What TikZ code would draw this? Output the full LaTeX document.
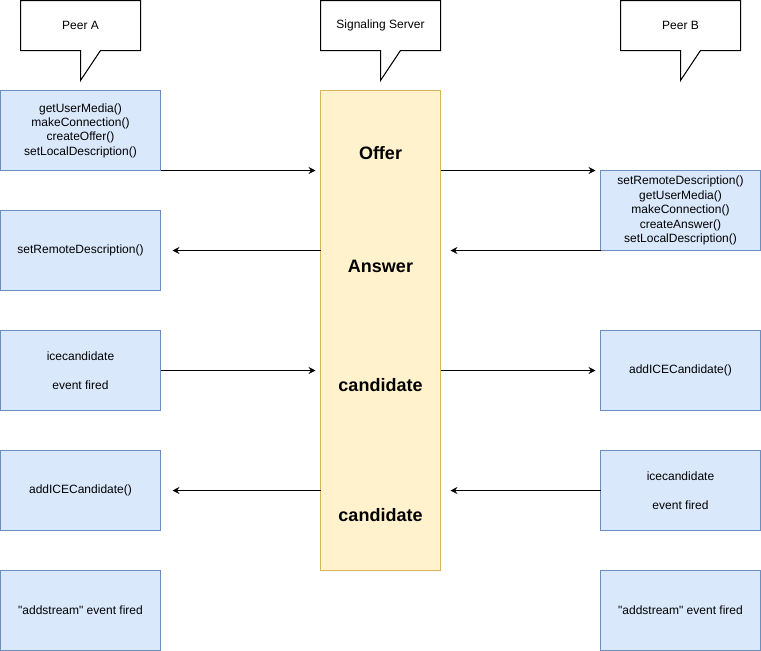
\documentclass[tikz,border=0pt]{standalone}
\usepackage{fontspec}
\setmainfont{Liberation Sans}[Ligatures=TeXOff]
\usetikzlibrary{arrows.meta,calc}
\definecolor{bfill}{HTML}{DAE8FC}
\definecolor{bdraw}{HTML}{6C8EBF}
\definecolor{yfill}{HTML}{FFF2CC}
\definecolor{ydraw}{HTML}{D6B656}
\tikzset{
  peerbox/.style={draw=bdraw,fill=bfill,line width=1pt,minimum width=160pt,minimum height=80pt,
    inner sep=0pt,outer sep=0pt,align=center,font=\fontsize{12}{14.4}\selectfont},
  serverbox/.style={draw=ydraw,fill=yfill,line width=1pt,minimum width=120pt,minimum height=480pt,
    inner sep=0pt,outer sep=0pt},
  msg/.style={font=\fontsize{18}{21.6}\selectfont\bfseries,inner sep=0pt},
  callouttext/.style={minimum width=120pt,minimum height=50pt,inner sep=0pt,outer sep=0pt,
    font=\fontsize{12}{14.4}\selectfont},
  callout/.style={draw=black,fill=white,line width=1pt,line join=miter},
  conn/.style={draw=black,line width=1pt,-{Stealth[length=7pt,width=7pt,inset=2.5pt]}},
}
\begin{document}
\begin{tikzpicture}[x=1pt,y=-1pt]
\useasboundingbox (-0.5,-0.5) rectangle (760.5,650.5);
% callouts
\node[callouttext] (pa) at (80,25) {};
\node[callouttext] (ss) at (380,25) {};
\node[callouttext] (pb) at (680,25) {};
\foreach \c in {pa,ss,pb}{
  \draw[callout] (\c.north west) -- (\c.north east) -- (\c.south east) -- ([xshift=20pt]\c.south)
    -- ([yshift=-30pt]\c.south) -- (\c.south) -- (\c.south west) -- cycle;
}
\node[callouttext] at (pa) {Peer A};
\node[callouttext] at (ss) {Signaling Server};
\node[callouttext] at (pb) {Peer B};
% server
\node[serverbox] (srv) at (380,330) {};
\node[msg] (m1) at (380,153) {Offer};
\node[msg] (m2) at (380,266) {Answer};
\node[msg] (m3) at (380,385) {candidate};
\node[msg] (m4) at (380,515) {candidate};
% peer A boxes
\node[peerbox] (a1) at (80,130) {getUserMedia()\\makeConnection()\\createOffer()\\setLocalDescription()};
\node[peerbox] (a2) at (80,250) {setRemoteDescription()};
\node[peerbox] (a3) at (80,370) {icecandidate\\[14.4pt]event fired};
\node[peerbox] (a4) at (80,490) {addICECandidate()};
\node[peerbox] (a5) at (80,610) {"addstream" event fired};
% peer B boxes
\node[peerbox] (b1) at (680,210) {setRemoteDescription()\\getUserMedia()\\makeConnection()\\createAnswer()\\setLocalDescription()};
\node[peerbox] (b3) at (680,370) {addICECandidate()};
\node[peerbox] (b4) at (680,490) {icecandidate\\[14.4pt]event fired};
\node[peerbox] (b5) at (680,610) {"addstream" event fired};
% connectors
\draw[conn,shorten >=5pt] (a1.south east) -- (a1.south east -| srv.west);
\draw[conn,shorten >=5pt] (srv.east |- b1.north west) -- (b1.north west);
\draw[conn,shorten >=10pt] (b1.south west) -- (b1.south west -| srv.east);
\draw[conn,shorten >=12pt] (srv.west |- a2.east) -- (a2.east);
\draw[conn,shorten >=5pt] (a3.east) -- (a3.east -| srv.west);
\draw[conn,shorten >=5pt] (srv.east |- b3.west) -- (b3.west);
\draw[conn,shorten >=10pt] (b4.west) -- (b4.west -| srv.east);
\draw[conn,shorten >=12pt] (srv.west |- a4.east) -- (a4.east);
\end{tikzpicture}
\end{document}
